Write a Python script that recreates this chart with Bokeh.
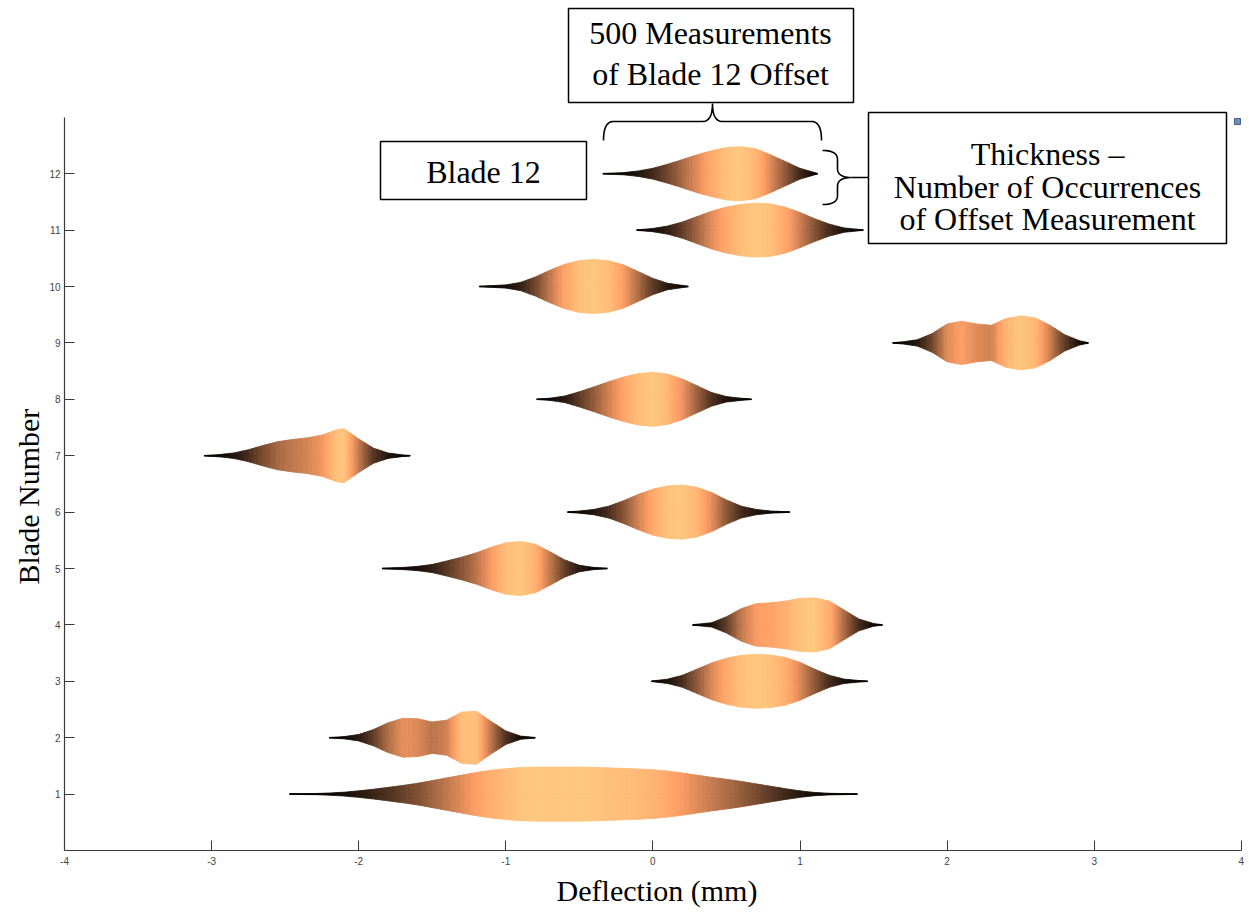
import numpy as np
from bokeh.plotting import figure
from bokeh.models import FixedTicker, Range1d, Title
from bokeh.core.properties import value
from bokeh.embed import file_html
from bokeh.resources import INLINE

# ---------------------------------------------------------------------------
# Offset distributions per blade: deflection (mm) and relative number of
# occurrences (1 = most frequent offset of that blade)
# ---------------------------------------------------------------------------
blade01_mm = [-2.47, -2.3, -2.2, -2.1, -2.0, -1.9, -1.8, -1.7, -1.6, -1.5, -1.4, -1.3, -1.2, -1.1,
              -1.0, -0.9, -0.8, -0.7, -0.6, -0.5, -0.4, -0.3, -0.2, -0.1, 0.0, 0.1, 0.2, 0.3,
              0.4, 0.5, 0.6, 0.7, 0.8, 0.9, 1.0, 1.1, 1.2, 1.3, 1.39]
blade01_rel = [0.01, 0.02, 0.04, 0.07, 0.12, 0.18, 0.25, 0.32, 0.40, 0.50, 0.60, 0.70, 0.80, 0.88,
               0.94, 0.98, 1.0, 1.0, 1.0, 1.0, 0.99, 0.97, 0.95, 0.93, 0.90, 0.85, 0.78, 0.70,
               0.62, 0.55, 0.47, 0.38, 0.29, 0.20, 0.12, 0.06, 0.03, 0.02, 0.01]

blade02_mm = [-2.2, -2.1, -2.0, -1.9, -1.8, -1.7, -1.6, -1.5, -1.4, -1.3, -1.2, -1.1, -1.0, -0.9, -0.8]
blade02_rel = [0.01, 0.04, 0.12, 0.30, 0.55, 0.72, 0.70, 0.58, 0.65, 0.95, 0.98, 0.60, 0.25, 0.06, 0.01]

blade03_mm = [-0.01, 0.1, 0.2, 0.3, 0.4, 0.5, 0.6, 0.7, 0.8, 0.9, 1.0, 1.1, 1.2, 1.3, 1.4, 1.46]
blade03_rel = [0.01, 0.08, 0.22, 0.45, 0.68, 0.85, 0.96, 1.0, 0.97, 0.88, 0.70, 0.45, 0.22, 0.08, 0.03, 0.01]

blade04_mm = [0.27, 0.4, 0.5, 0.6, 0.7, 0.8, 0.9, 1.0, 1.1, 1.2, 1.3, 1.4, 1.5, 1.56]
blade04_rel = [0.01, 0.08, 0.30, 0.60, 0.78, 0.82, 0.88, 0.98, 1.0, 0.88, 0.55, 0.22, 0.05, 0.01]

blade05_mm = [-1.84, -1.7, -1.6, -1.5, -1.4, -1.3, -1.2, -1.1, -1.0, -0.9, -0.8, -0.7, -0.6, -0.5, -0.4, -0.31]
blade05_rel = [0.01, 0.04, 0.08, 0.15, 0.28, 0.42, 0.58, 0.78, 0.95, 1.0, 0.90, 0.62, 0.32, 0.12, 0.04, 0.01]

blade06_mm = [-0.58, -0.5, -0.4, -0.3, -0.2, -0.1, 0.0, 0.1, 0.2, 0.3, 0.4, 0.5, 0.6, 0.7, 0.8, 0.93]
blade06_rel = [0.01, 0.04, 0.10, 0.22, 0.42, 0.65, 0.85, 0.97, 1.0, 0.92, 0.72, 0.45, 0.22, 0.10, 0.04, 0.01]

blade07_mm = [-3.05, -2.95, -2.85, -2.75, -2.65, -2.55, -2.45, -2.35, -2.25, -2.15, -2.1, -2.0, -1.9, -1.8, -1.7, -1.65]
blade07_rel = [0.01, 0.04, 0.10, 0.22, 0.38, 0.52, 0.60, 0.66, 0.76, 0.96, 1.0, 0.62, 0.28, 0.10, 0.03, 0.01]

blade08_mm = [-0.79, -0.7, -0.6, -0.5, -0.4, -0.3, -0.2, -0.1, 0.0, 0.1, 0.2, 0.3, 0.4, 0.5, 0.6, 0.67]
blade08_rel = [0.01, 0.04, 0.12, 0.28, 0.46, 0.65, 0.82, 0.95, 1.0, 0.93, 0.75, 0.50, 0.25, 0.10, 0.04, 0.01]

blade09_mm = [1.63, 1.7, 1.8, 1.9, 2.0, 2.1, 2.2, 2.3, 2.4, 2.5, 2.6, 2.7, 2.8, 2.9, 2.96]
blade09_rel = [0.01, 0.04, 0.12, 0.35, 0.70, 0.80, 0.70, 0.65, 0.90, 1.0, 0.92, 0.65, 0.30, 0.08, 0.01]

blade10_mm = [-1.18, -1.1, -1.0, -0.9, -0.8, -0.7, -0.6, -0.5, -0.4, -0.3, -0.2, -0.1, 0.0, 0.1, 0.24]
blade10_rel = [0.01, 0.03, 0.06, 0.15, 0.35, 0.60, 0.82, 0.96, 1.0, 0.95, 0.80, 0.55, 0.30, 0.12, 0.01]

blade11_mm = [-0.11, 0.0, 0.1, 0.2, 0.3, 0.4, 0.5, 0.6, 0.7, 0.8, 0.9, 1.0, 1.1, 1.2, 1.3, 1.43]
blade11_rel = [0.01, 0.06, 0.15, 0.30, 0.50, 0.70, 0.85, 0.95, 1.0, 0.97, 0.85, 0.65, 0.42, 0.22, 0.08, 0.01]

blade12_mm = [-0.34, -0.2, -0.1, 0.0, 0.1, 0.2, 0.3, 0.4, 0.5, 0.6, 0.7, 0.8, 0.9, 1.0, 1.12]
blade12_rel = [0.01, 0.04, 0.10, 0.20, 0.35, 0.52, 0.70, 0.85, 0.97, 1.0, 0.92, 0.70, 0.45, 0.20, 0.01]

blade_numbers = list(range(1, 13))
blade_offsets = [blade01_mm, blade02_mm, blade03_mm, blade04_mm, blade05_mm, blade06_mm,
                 blade07_mm, blade08_mm, blade09_mm, blade10_mm, blade11_mm, blade12_mm]
blade_occurrences = [blade01_rel, blade02_rel, blade03_rel, blade04_rel, blade05_rel, blade06_rel,
                     blade07_rel, blade08_rel, blade09_rel, blade10_rel, blade11_rel, blade12_rel]

x_ticks = [-4, -3, -2, -1, 0, 1, 2, 3, 4]
x_tick_labels = ["-4", "-3", "-2", "-1", "0", "1", "2", "3", "4"]
y_ticks = blade_numbers

# ---------------------------------------------------------------------------
# Geometry
# ---------------------------------------------------------------------------
W, H = 1249, 912
LEFT, BOTTOM = 64, 62            # frame margins (px); frame runs to top/right edge
PX_MM = 147.1                    # px per mm
PX_BLADE = 56.4                  # px per blade row
X_START = -4.0
X_END = X_START + (W - LEFT) / PX_MM
Y_END = (H - BOTTOM) / PX_BLADE
HALF = 0.48                      # half thickness of the most frequent offset


def sx(px):
    return X_START + (px - LEFT) / PX_MM


def sy(py):
    return (H - BOTTOM - py) / PX_BLADE


def copper(t):
    t = min(max(t, 0.0), 1.0)
    r = min(1.0, 1.25 * t)
    g = 0.7812 * t
    b = 0.4975 * t
    return "#%02x%02x%02x" % (int(round(r * 255)), int(round(g * 255)), int(round(b * 255)))


p = figure(width=W, height=H, output_backend="svg", toolbar_location=None,
           x_range=Range1d(X_START, X_END), y_range=Range1d(0, Y_END),
           min_border_left=LEFT, min_border_right=0, min_border_top=0,
           min_border_bottom=BOTTOM)
p.grid.visible = False
p.outline_line_color = None
p.background_fill_color = "white"
p.border_fill_color = "white"

# ---------------------------------------------------------------------------
# Violin bodies: thickness follows the occurrence count, shaded with a
# copper ramp from the thin tails to the thickest part
# ---------------------------------------------------------------------------
# thin tail line underneath each distribution
p.segment(x0=[mm[0] for mm in blade_offsets], y0=blade_numbers,
          x1=[mm[-1] for mm in blade_offsets], y1=blade_numbers,
          line_color="#140a05", line_width=1.6)

SHADE_STEPS = 6
pxs, pys, cols = [], [], []
for blade, mm, rel in zip(blade_numbers, blade_offsets, blade_occurrences):
    for i in range(len(mm) - 1):
        x0, x1 = mm[i], mm[i + 1]
        d0, d1 = rel[i], rel[i + 1]
        for k in range(SHADE_STEPS):
            fa, fb = k / SHADE_STEPS, (k + 1) / SHADE_STEPS
            xa, xb = x0 + (x1 - x0) * fa, x0 + (x1 - x0) * fb
            da, db = d0 + (d1 - d0) * fa, d0 + (d1 - d0) * fb
            pxs.append([xa, xb, xb, xa])
            pys.append([blade + HALF * da, blade + HALF * db, blade - HALF * db, blade - HALF * da])
            cols.append(copper((da + db) / 2))

p.patches(pxs, pys, fill_color=cols, line_color=cols, line_width=0.8)

# ---------------------------------------------------------------------------
# Axes
# ---------------------------------------------------------------------------
for ax in (p.xaxis, p.yaxis):
    ax.axis_line_color = "#3a3a3a"
    ax.axis_line_width = 1.2
    ax.major_tick_line_color = "#3a3a3a"
    ax.major_tick_in = 10
    ax.major_tick_out = 0
    ax.minor_tick_line_color = None
    ax.major_label_text_font = "Liberation Sans"
    ax.major_label_text_font_size = "10px"
    ax.major_label_text_color = "#444444"

p.xaxis.ticker = FixedTicker(ticks=x_ticks)
p.xaxis.major_label_overrides = {t: s for t, s in zip(x_ticks, x_tick_labels)}
p.yaxis.ticker = FixedTicker(ticks=y_ticks)
p.xaxis.bounds = (-4, 4)
p.yaxis.bounds = (0, 13)
p.xaxis.major_label_standoff = 6
p.yaxis.major_label_standoff = 4

TITLE_FONT = "Liberation Serif"
p.add_layout(Title(text="Deflection (mm)", align="center", standoff=8,
                   text_font=TITLE_FONT, text_font_size="30px", text_font_style="normal",
                   text_color="black"), "below")
# anchored at the foot of the frame and lifted to sit beside the drawn axis
p.add_layout(Title(text="Blade Number", align="left", offset=266, standoff=4,
                   text_font=TITLE_FONT, text_font_size="30px", text_font_style="normal",
                   text_color="black"), "left")

# ---------------------------------------------------------------------------
# Call-out boxes and braces
# ---------------------------------------------------------------------------
boxes = [(568, 853, 8, 102), (380, 586, 141, 199), (868, 1226, 112, 243)]
p.quad(left=[sx(b[0]) for b in boxes], right=[sx(b[1]) for b in boxes],
       top=[sy(b[2]) for b in boxes], bottom=[sy(b[3]) for b in boxes],
       fill_color="white", line_color="black", line_width=1.5)

callout_lines = [
    ("500 Measurements", 710, 32),
    ("of Blade 12 Offset", 710, 73),
    ("Blade 12", 483, 171),
    ("Thickness \u2013", 1047, 153),
    ("Number of Occurrences", 1047, 186),
    ("of Offset Measurement", 1047, 218),
]
p.text(x=[sx(c[1]) for c in callout_lines], y=[sy(c[2]) for c in callout_lines],
       text=[c[0] for c in callout_lines], text_font=value(TITLE_FONT),
       text_font_size="32px", text_color="black", text_align="center",
       text_baseline="middle")


def quad_curve(a, c, b, n=16):
    t = np.linspace(0, 1, n)
    xs = (1 - t) ** 2 * a[0] + 2 * (1 - t) * t * c[0] + t ** 2 * b[0]
    ys = (1 - t) ** 2 * a[1] + 2 * (1 - t) * t * c[1] + t ** 2 * b[1]
    return list(xs), list(ys)


def brace_h(x0, x1, y_end, y_arm, y_tip, r):
    xc = (x0 + x1) / 2
    xs, ys = [], []
    for seg in (quad_curve((x0, y_end), (x0, y_arm), (x0 + r, y_arm)),
                ([x0 + r, xc - r], [y_arm, y_arm]),
                quad_curve((xc - r, y_arm), (xc, y_arm), (xc, y_tip)),
                quad_curve((xc, y_tip), (xc, y_arm), (xc + r, y_arm)),
                ([xc + r, x1 - r], [y_arm, y_arm]),
                quad_curve((x1 - r, y_arm), (x1, y_arm), (x1, y_end))):
        xs += seg[0]
        ys += seg[1]
    return xs, ys


def brace_v(y0, y1, x_end, x_arm, x_tip, r):
    yc = (y0 + y1) / 2
    xs, ys = [], []
    for seg in (quad_curve((x_end, y0), (x_arm, y0), (x_arm, y0 + r)),
                ([x_arm, x_arm], [y0 + r, yc - r]),
                quad_curve((x_arm, yc - r), (x_arm, yc), (x_tip, yc)),
                quad_curve((x_tip, yc), (x_arm, yc), (x_arm, yc + r)),
                ([x_arm, x_arm], [yc + r, y1 - r]),
                quad_curve((x_arm, y1 - r), (x_arm, y1), (x_end, y1))):
        xs += seg[0]
        ys += seg[1]
    return xs, ys


bh = brace_h(603, 821, 140, 121, 103, 10)
bv = brace_v(150, 204, 822, 837, 851, 9)
p.multi_line(xs=[[sx(v) for v in bh[0]], [sx(v) for v in bv[0]], [sx(851), sx(868)]],
             ys=[[sy(v) for v in bh[1]], [sy(v) for v in bv[1]], [sy(177), sy(177)]],
             line_color="black", line_width=1.6)

# small figure-window marker in the top right corner
p.quad(left=[sx(1234)], right=[sx(1240)], top=[sy(118)], bottom=[sy(124)],
       fill_color="#6f8fb5", line_color="#3d5f88", line_width=1)

open("out.html", "w").write(file_html(p, INLINE))
